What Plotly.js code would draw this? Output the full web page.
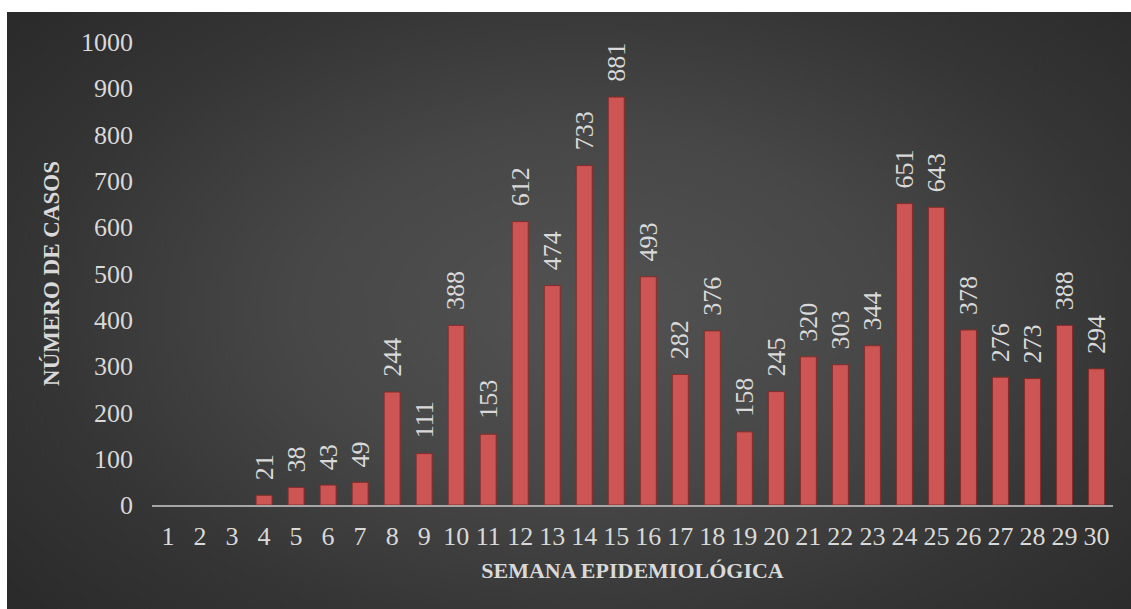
<!DOCTYPE html>
<html>
<head>
<meta charset="utf-8">
<script src="https://cdn.plot.ly/plotly-3.0.1.min.js"></script>
<style>
  html, body { margin: 0; padding: 0; background: #ffffff; width: 1131px; height: 609px; overflow: hidden; }
  #chart {
    position: absolute; left: 7px; top: 12px; width: 1124px; height: 597px;
    background: radial-gradient(ellipse 75% 85% at 52% 50%, #525252 0%, #474747 35%, #353535 65%, #262626 100%);
  }
</style>
</head>
<body>
<div id="chart"></div>
<script>
const weeks = ['1','2','3','4','5','6','7','8','9','10','11','12','13','14','15','16','17','18','19','20','21','22','23','24','25','26','27','28','29','30'];
const cases = [null, null, null, 21, 38, 43, 49, 244, 111, 388, 153, 612, 474, 733, 881, 493, 282, 376, 158, 245, 320, 303, 344, 651, 643, 378, 276, 273, 388, 294];
const yTicks = [0, 100, 200, 300, 400, 500, 600, 700, 800, 900, 1000];
const xTitle = 'SEMANA EPIDEMIOLÓGICA';
const yTitle = 'NÚMERO DE CASOS';

const txtColor = '#d9d9d9';
const fontFam = '"Liberation Serif", "DejaVu Serif", serif';
const fs = 26;

const bars = {
  type: 'bar',
  x: weeks,
  y: cases,
  marker: { color: '#cd5553', line: { color: '#852d2b', width: 1 } },
  hoverinfo: 'x+y'
};

const annotations = [];
weeks.forEach((w, i) => {
  if (cases[i] === null) return;
  annotations.push({
    x: i, y: cases[i], xref: 'x', yref: 'y',
    text: String(cases[i]), textangle: -90,
    xanchor: 'center', yanchor: 'bottom', yshift: 13,
    showarrow: false,
    font: { family: fontFam, size: fs, color: txtColor }
  });
});

const layout = {
  width: 1124, height: 597,
  margin: { l: 145, r: 18, t: 30, b: 104 },
  paper_bgcolor: 'rgba(0,0,0,0)',
  plot_bgcolor: 'rgba(0,0,0,0)',
  bargap: 0.5,
  showlegend: false,
  font: { family: fontFam, size: fs, color: txtColor },
  xaxis: {
    type: 'category',
    showgrid: false, zeroline: false,
    showline: true, linecolor: '#a6a6a6', linewidth: 2,
    ticks: '', ticklabelstandoff: 7,
    tickfont: { family: fontFam, size: fs, color: txtColor },
    title: { text: xTitle, standoff: 12, font: { family: fontFam, size: 22, color: txtColor, weight: 'bold' } },
    automargin: false
  },
  yaxis: {
    range: [0, 1000],
    tickvals: yTicks,
    showgrid: false, zeroline: false, showline: false,
    ticks: '', ticklabelstandoff: 18,
    tickfont: { family: fontFam, size: fs, color: txtColor },
    title: { text: yTitle, standoff: 14, font: { family: fontFam, size: 23, color: txtColor, weight: 'bold' } },
    automargin: false
  },
  annotations: annotations
};

Plotly.newPlot('chart', [bars], layout, { displayModeBar: false, staticPlot: true });
</script>
</body>
</html>
